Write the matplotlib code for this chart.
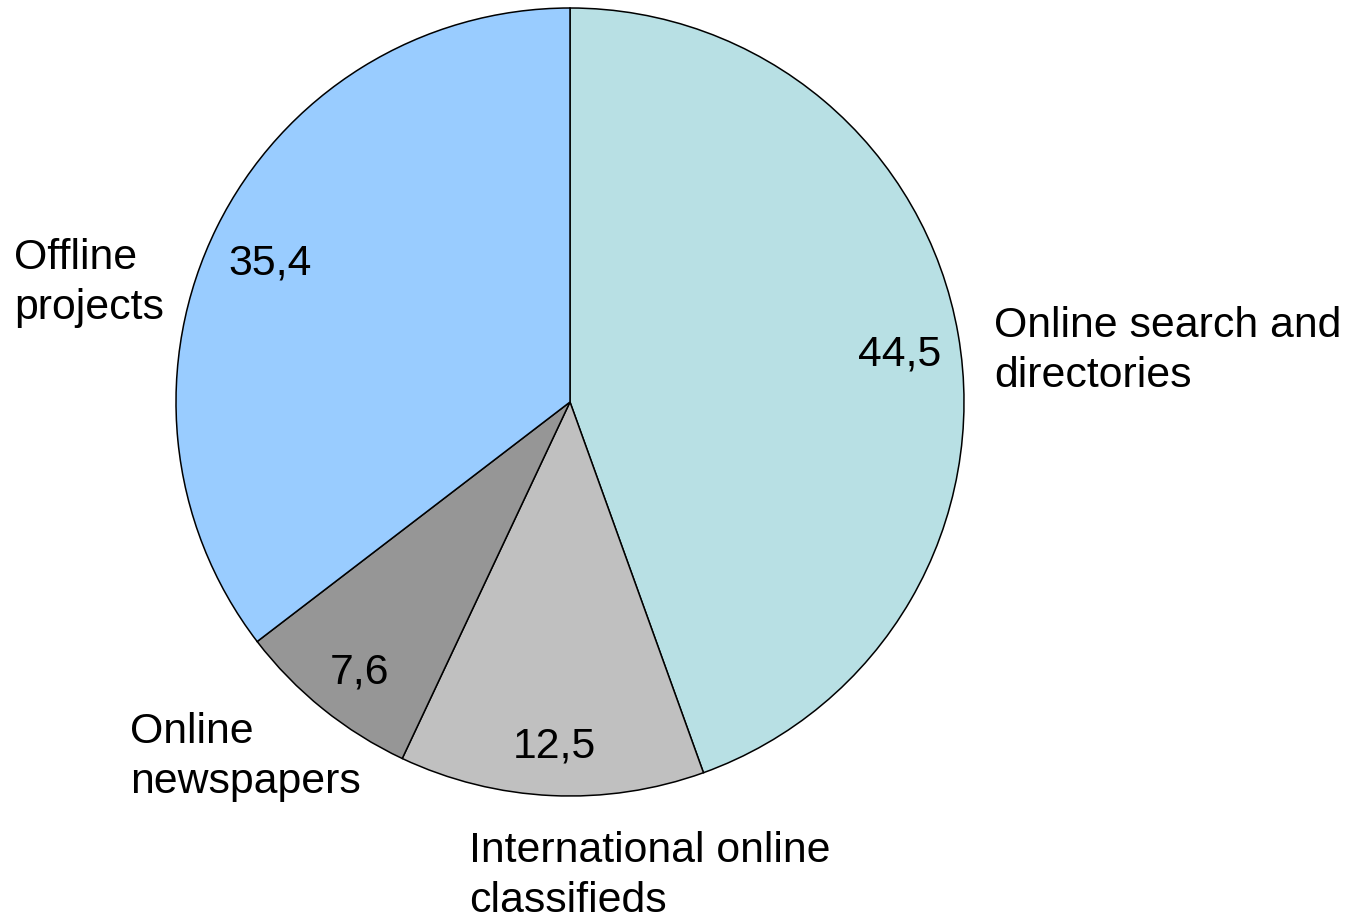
import matplotlib
matplotlib.use("Agg")
import matplotlib.pyplot as plt

categories = ["Online search and\ndirectories", "International online\nclassifieds",
              "Online\nnewspapers", "Offline\nprojects"]
values = [44.5, 12.5, 7.6, 35.4]
colors = ["#B8E0E4", "#C0C0C0", "#969696", "#99CCFF"]

plt.rcParams['font.family'] = ['Liberation Sans', 'DejaVu Sans']

W, H = 1353, 920
fig = plt.figure(figsize=(W / 100, H / 100), dpi=100)
ax = fig.add_axes([0, 0, 1, 1])

# pie drawn in pixel-like units: center and radius
cx, cy, r = 570, H - 403, 394

wedges, texts, autotexts = ax.pie(
    values, colors=colors, startangle=90, counterclock=False,
    center=(cx, cy), radius=r,
    autopct=lambda p: ("%.1f" % p).replace(".", ","),
    pctdistance=0.85,
    wedgeprops=dict(edgecolor="black", linewidth=1.1),
    textprops=dict(fontsize=30.8, color="black"))

# value labels sit a little lower in the original
for t in autotexts:
    x, y = t.get_position()
    t.set_position((x, y - 9))

ax.set_xlim(0, W)
ax.set_ylim(0, H)
ax.set_aspect("auto")
ax.axis("off")

# category labels (pixel positions, left aligned)
label_pos = [(994, 351), (469, 876), (130, 757), (14, 283)]
for name, (px, py) in zip(categories, label_pos):
    ax.text(px, H - py, name, fontsize=30.8, ha="left", va="center",
            linespacing=1.33)

fig.savefig("out.png", dpi=100)
